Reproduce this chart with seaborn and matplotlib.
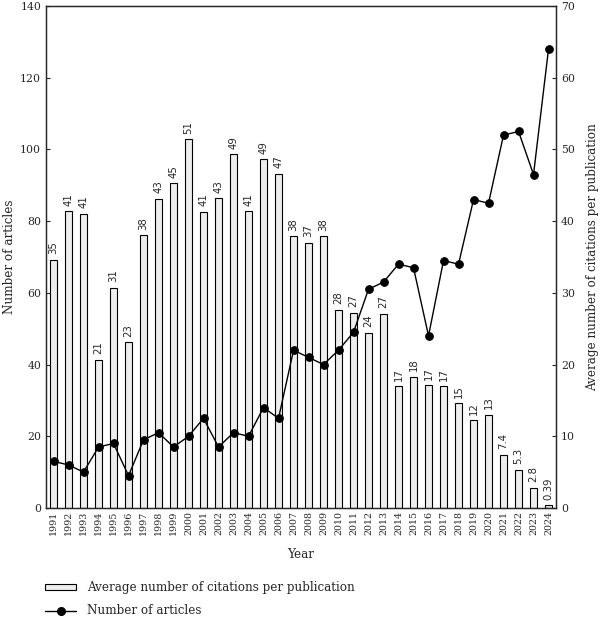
import numpy as np
import seaborn as sns
import matplotlib.pyplot as plt
from matplotlib.patches import Patch
from matplotlib.lines import Line2D

years = [str(y) for y in range(1991, 2025)]

# average citations per publication (bars, right axis)
citations = [34.6, 41.4, 41.0, 20.7, 30.7, 23.1, 38.0, 43.1, 45.3, 51.4,
             41.3, 43.2, 49.3, 41.4, 48.6, 46.6, 37.9, 37.0, 37.9, 27.6,
             27.2, 24.4, 27.1, 17.0, 18.3, 17.1, 17.0, 14.6, 12.2, 13.0,
             7.4, 5.3, 2.8, 0.39]

# number of articles (line, left axis)
articles = [13, 12, 10, 17, 18, 9, 19, 21, 17, 20,
            25, 17, 21, 20, 28, 25, 44, 42, 40, 44,
            49, 61, 63, 68, 67, 48, 69, 68, 86, 85,
            104, 105, 93, 128]

sns.set_style("ticks")
plt.rcParams['font.family'] = ['DejaVu Serif']

fig = plt.figure(figsize=(6.0, 6.17), dpi=100)
ax = fig.add_axes([0.0767, 0.1767, 0.85, 0.8136])
ax2 = ax.twinx()

sns.barplot(x=years, y=citations, ax=ax2, color='#ededed', edgecolor='black',
            linewidth=0.8, width=0.45, saturation=1)
ax2.bar_label(ax2.containers[0], fmt='%.2g', rotation=90, padding=4,
              fontsize=7.3, family='DejaVu Sans')

sns.pointplot(x=years, y=articles, ax=ax, color='black', markers='o',
              markersize=5.5, linewidth=1, errorbar=None)

ax.set_zorder(ax2.get_zorder() + 1)
ax.patch.set_visible(False)

ax.set_ylim(0, 140)
ax2.set_ylim(0, 70)
ax.set_xlim(-0.5, len(years) - 0.5)
ax.set_yticks(np.arange(0, 141, 20))
ax2.set_yticks(np.arange(0, 71, 10))

ax.set_xlabel('Year', fontsize=8.6, labelpad=9)
ax.set_ylabel('Number of articles', fontsize=8.6, labelpad=3)
ax2.set_ylabel('Average number of citations per publication', fontsize=8.6, labelpad=8)

ax.tick_params(axis='x', labelrotation=90, labelsize=6.8, length=0, pad=2)
ax.tick_params(axis='y', direction='in', length=3, labelsize=7.8)
ax2.tick_params(axis='y', direction='in', length=3, labelsize=7.8)

for a in (ax, ax2):
    for s in a.spines.values():
        s.set_visible(True)
        s.set_linewidth(0.9)

handles = [Patch(facecolor='#ededed', edgecolor='black', linewidth=0.8),
           Line2D([], [], color='black', marker='o', markersize=5.5, linewidth=1)]
labels = ['Average number of citations per publication', 'Number of articles']
fig.legend(handles, labels, loc='upper left', bbox_to_anchor=(0.075, 0.058),
           frameon=False, fontsize=8.6, handlelength=2.6, handleheight=0.5,
           handletextpad=0.9, labelspacing=0.85, borderpad=0, borderaxespad=0)

fig.savefig('out.png', dpi=100)
